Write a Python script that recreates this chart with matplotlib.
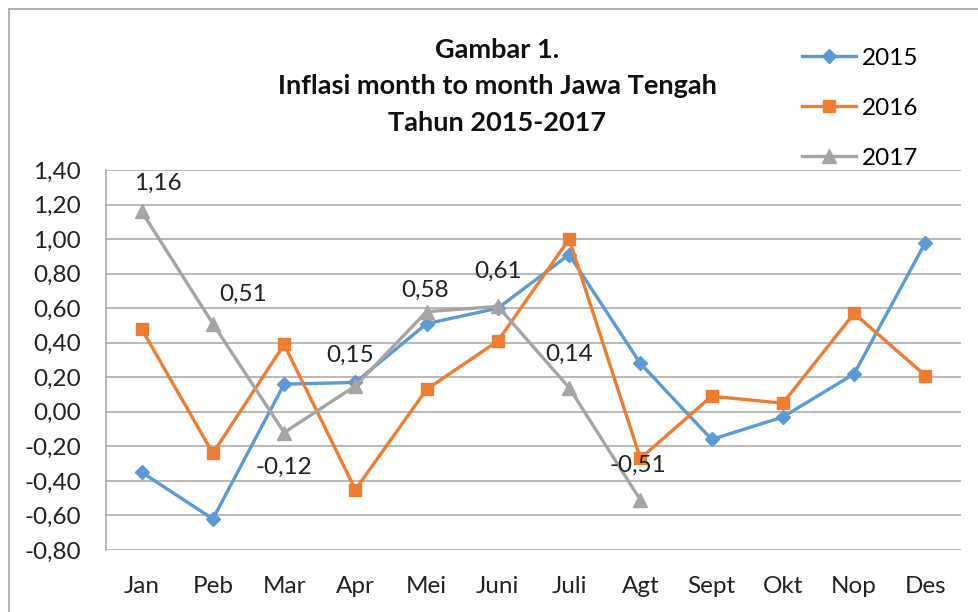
import matplotlib
matplotlib.use("Agg")
import matplotlib.pyplot as plt
from matplotlib.lines import Line2D

plt.rcParams['font.family'] = ['Lato', 'DejaVu Sans']

# data
months = ["Jan", "Peb", "Mar", "Apr", "Mei", "Juni", "Juli", "Agt", "Sept", "Okt", "Nop", "Des"]
infl_2015 = [-0.35, -0.62, 0.16, 0.17, 0.51, 0.60, 0.91, 0.28, -0.16, -0.03, 0.22, 0.98]
infl_2016 = [0.48, -0.24, 0.39, -0.45, 0.13, 0.41, 1.00, -0.27, 0.09, 0.05, 0.57, 0.21]
infl_2017 = [1.16, 0.51, -0.12, 0.15, 0.58, 0.61, 0.14, -0.51]
yticks = [-0.8, -0.6, -0.4, -0.2, 0.0, 0.2, 0.4, 0.6, 0.8, 1.0, 1.2, 1.4]

# label offsets (points) for the 2017 data labels
lbl_dx = [12, 22, 0, -4, -1, 0, 0, -2]
lbl_dy = [20, 21, -25, 22, 15, 25, 24, 25]


def fmt(v):
    return ("%.2f" % v).replace(".", ",")


fig = plt.figure(figsize=(9.79, 6.12), dpi=100)
ax = fig.add_axes([106 / 979, 62 / 612, 855 / 979, 380 / 612])

x = list(range(len(months)))
ax.plot(x, infl_2015, color="#5B9BD5", lw=2.4, marker="D", ms=7, label="2015", zorder=3)
ax.plot(x, infl_2016, color="#ED7D31", lw=2.4, marker="s", ms=9, label="2016", zorder=3)
ax.plot(x[:len(infl_2017)], infl_2017, color="#A5A5A5", lw=2.4, marker="^", ms=10,
        label="2017", zorder=3)

for i, v in enumerate(infl_2017):
    ax.annotate(fmt(v), (i, v), xytext=(lbl_dx[i], lbl_dy[i]), textcoords="offset points",
                ha="center", va="center", fontsize=17.5, color="#222222", zorder=4)

ax.set_xlim(-0.5, len(months) - 0.5)
ax.set_ylim(-0.8, 1.4)
ax.set_yticks(yticks)
ax.set_yticklabels([fmt(t) for t in yticks])
ax.set_xticks(x)
ax.set_xticklabels(months)
ax.tick_params(axis="both", length=0, labelsize=17.5, colors="#222222")
ax.tick_params(axis="x", pad=18.5)
ax.tick_params(axis="y", pad=18)
ax.yaxis.grid(True, color="#A6A6A6", lw=1.1)
ax.set_axisbelow(True)
for s in ["top", "right", "bottom"]:
    ax.spines[s].set_visible(False)
ax.spines["left"].set_color("#A6A6A6")
ax.spines["left"].set_linewidth(1.1)

fig.text(0.508, 0.938, "Gambar 1.\nInflasi month to month Jawa Tengah\nTahun 2015-2017",
         ha="center", va="top", fontsize=19.5, fontweight="bold", linespacing=1.62,
         color="#111111")

leg = fig.legend(loc="upper left", bbox_to_anchor=(0.797, 0.958), frameon=False,
                 fontsize=17.5, handlelength=2.2, labelspacing=1.2, handletextpad=0.25)

# outer chart border (only top and left visible in the crop)
fig.add_artist(Line2D([9 / 979, 9 / 979], [0, 1 - 9 / 612], transform=fig.transFigure,
                      color="#A6A6A6", lw=1.2))
fig.add_artist(Line2D([9 / 979, 1], [1 - 9 / 612, 1 - 9 / 612], transform=fig.transFigure,
                      color="#A6A6A6", lw=1.2))

fig.savefig("out.png", dpi=100)
